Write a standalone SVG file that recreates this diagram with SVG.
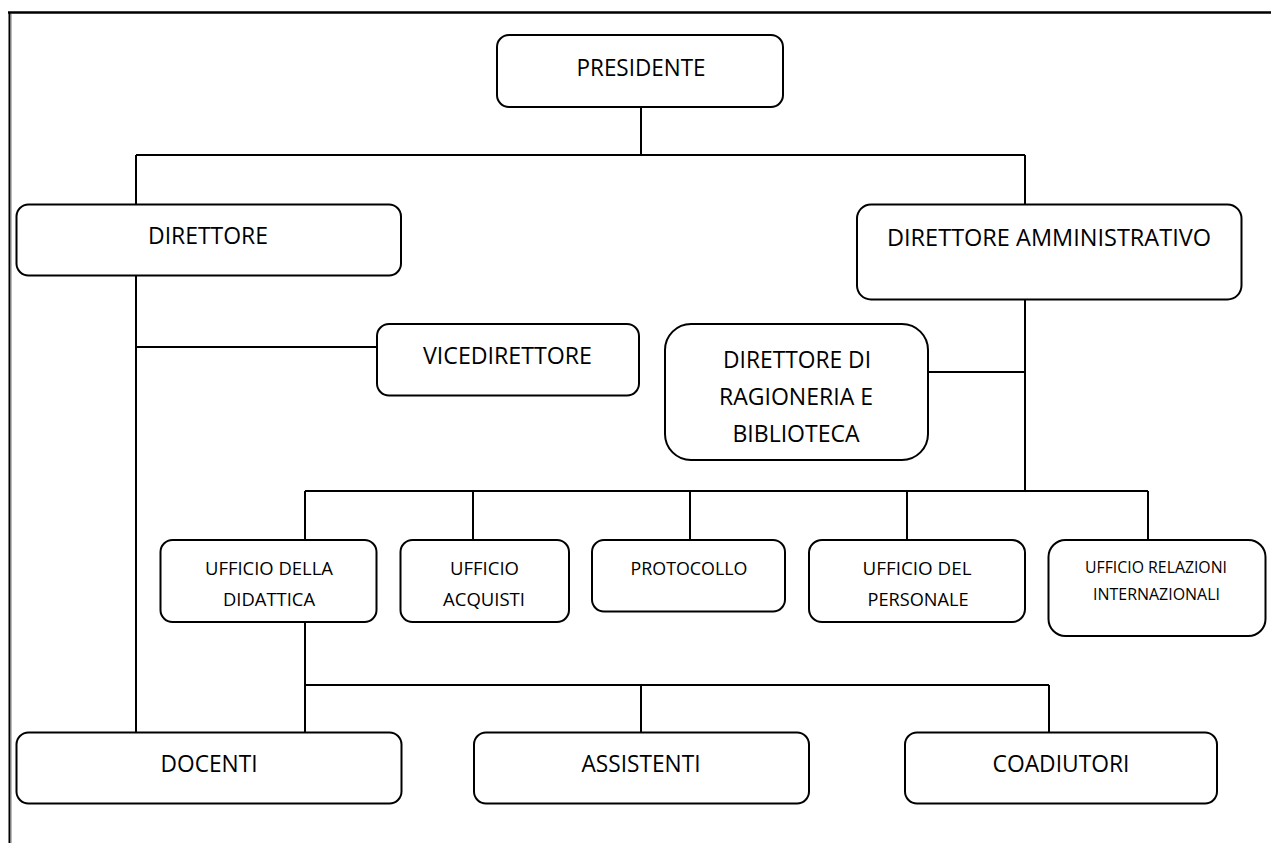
<svg xmlns="http://www.w3.org/2000/svg" width="1271" height="843" viewBox="0 0 1271 843">
<style>
.box{fill:#fff;stroke:#000;stroke-width:2}
.ln{stroke:#000;stroke-width:2;fill:none}
.t{font-family:"Open Sans","Liberation Sans",sans-serif;fill:#000;text-anchor:middle}
.big{font-size:23.5px}
.sm{font-size:18.5px}
.xs{font-size:15.5px}
</style>
<rect width="1271" height="843" fill="#fff"/>
<g id="frame">
<line x1="8" y1="12.5" x2="1271" y2="12.5" stroke="#000" stroke-width="2.5"/>
<line x1="9.5" y1="12" x2="9.5" y2="843" stroke="#000" stroke-width="2"/>
<line x1="11.5" y1="14" x2="11.5" y2="843" stroke="#bbb" stroke-width="1"/>
</g>
<g id="connectors">
<path class="ln" d="M641 108V155M136 155H1025M136 155V204M1025 155V204"/>
<path class="ln" d="M136 276V732M136 347H377"/>
<path class="ln" d="M1025 300V491M928 372H1025"/>
<path class="ln" d="M305 491H1148M305 491V540M473 491V540M690 491V540M907 491V540M1148 491V540"/>
<path class="ln" d="M305 622V732M305 685H1049M641 685V732M1049 685V732"/>
</g>
<g id="presidente">
<rect class="box" x="497" y="35" width="286" height="72" rx="12"/>
<text class="t big" x="641" y="76" textLength="129" lengthAdjust="spacingAndGlyphs">PRESIDENTE</text>
</g>
<g id="direttore">
<rect class="box" x="16.5" y="204.5" width="384.5" height="71" rx="12"/>
<text class="t big" x="208" y="244" textLength="120" lengthAdjust="spacingAndGlyphs">DIRETTORE</text>
</g>
<g id="direttore-amministrativo">
<rect class="box" x="857" y="204.5" width="384.5" height="95" rx="14"/>
<text class="t big" x="1049" y="246" textLength="324" lengthAdjust="spacingAndGlyphs">DIRETTORE AMMINISTRATIVO</text>
</g>
<g id="vicedirettore">
<rect class="box" x="377" y="324" width="262" height="71.5" rx="12"/>
<text class="t big" x="507.5" y="364" textLength="169" lengthAdjust="spacingAndGlyphs">VICEDIRETTORE</text>
</g>
<g id="direttore-ragioneria">
<rect class="box" x="665" y="324" width="263" height="136" rx="26"/>
<text class="t big" x="797" y="368" textLength="148" lengthAdjust="spacingAndGlyphs">DIRETTORE DI</text>
<text class="t big" x="796" y="405" textLength="154" lengthAdjust="spacingAndGlyphs">RAGIONERIA E</text>
<text class="t big" x="796" y="442" textLength="127" lengthAdjust="spacingAndGlyphs">BIBLIOTECA</text>
</g>
<g id="ufficio-didattica">
<rect class="box" x="160.5" y="540" width="216" height="82" rx="12"/>
<text class="t sm" x="269" y="575" textLength="128" lengthAdjust="spacingAndGlyphs">UFFICIO DELLA</text>
<text class="t sm" x="269" y="606" textLength="92" lengthAdjust="spacingAndGlyphs">DIDATTICA</text>
</g>
<g id="ufficio-acquisti">
<rect class="box" x="400.5" y="540" width="168.5" height="82" rx="12"/>
<text class="t sm" x="484.5" y="575" textLength="69" lengthAdjust="spacingAndGlyphs">UFFICIO</text>
<text class="t sm" x="484" y="606" textLength="82" lengthAdjust="spacingAndGlyphs">ACQUISTI</text>
</g>
<g id="protocollo">
<rect class="box" x="592" y="540" width="193" height="71.5" rx="12"/>
<text class="t sm" x="689" y="575" textLength="117" lengthAdjust="spacingAndGlyphs">PROTOCOLLO</text>
</g>
<g id="ufficio-personale">
<rect class="box" x="809" y="540" width="216" height="82" rx="13"/>
<text class="t sm" x="917" y="575" textLength="109" lengthAdjust="spacingAndGlyphs">UFFICIO DEL</text>
<text class="t sm" x="918" y="606" textLength="101" lengthAdjust="spacingAndGlyphs">PERSONALE</text>
</g>
<g id="ufficio-relazioni">
<rect class="box" x="1048.5" y="540" width="217" height="96" rx="17"/>
<text class="t xs" x="1156" y="573" textLength="142" lengthAdjust="spacingAndGlyphs">UFFICIO RELAZIONI</text>
<text class="t xs" x="1156.5" y="600" textLength="127" lengthAdjust="spacingAndGlyphs">INTERNAZIONALI</text>
</g>
<g id="docenti">
<rect class="box" x="16.5" y="732.5" width="385" height="71" rx="12"/>
<text class="t big" x="209" y="772" textLength="97" lengthAdjust="spacingAndGlyphs">DOCENTI</text>
</g>
<g id="assistenti">
<rect class="box" x="474" y="732.5" width="335" height="71" rx="12"/>
<text class="t big" x="641" y="772" textLength="119" lengthAdjust="spacingAndGlyphs">ASSISTENTI</text>
</g>
<g id="coadiutori">
<rect class="box" x="905" y="732.5" width="312" height="71" rx="12"/>
<text class="t big" x="1061" y="772" textLength="137" lengthAdjust="spacingAndGlyphs">COADIUTORI</text>
</g>
</svg>
